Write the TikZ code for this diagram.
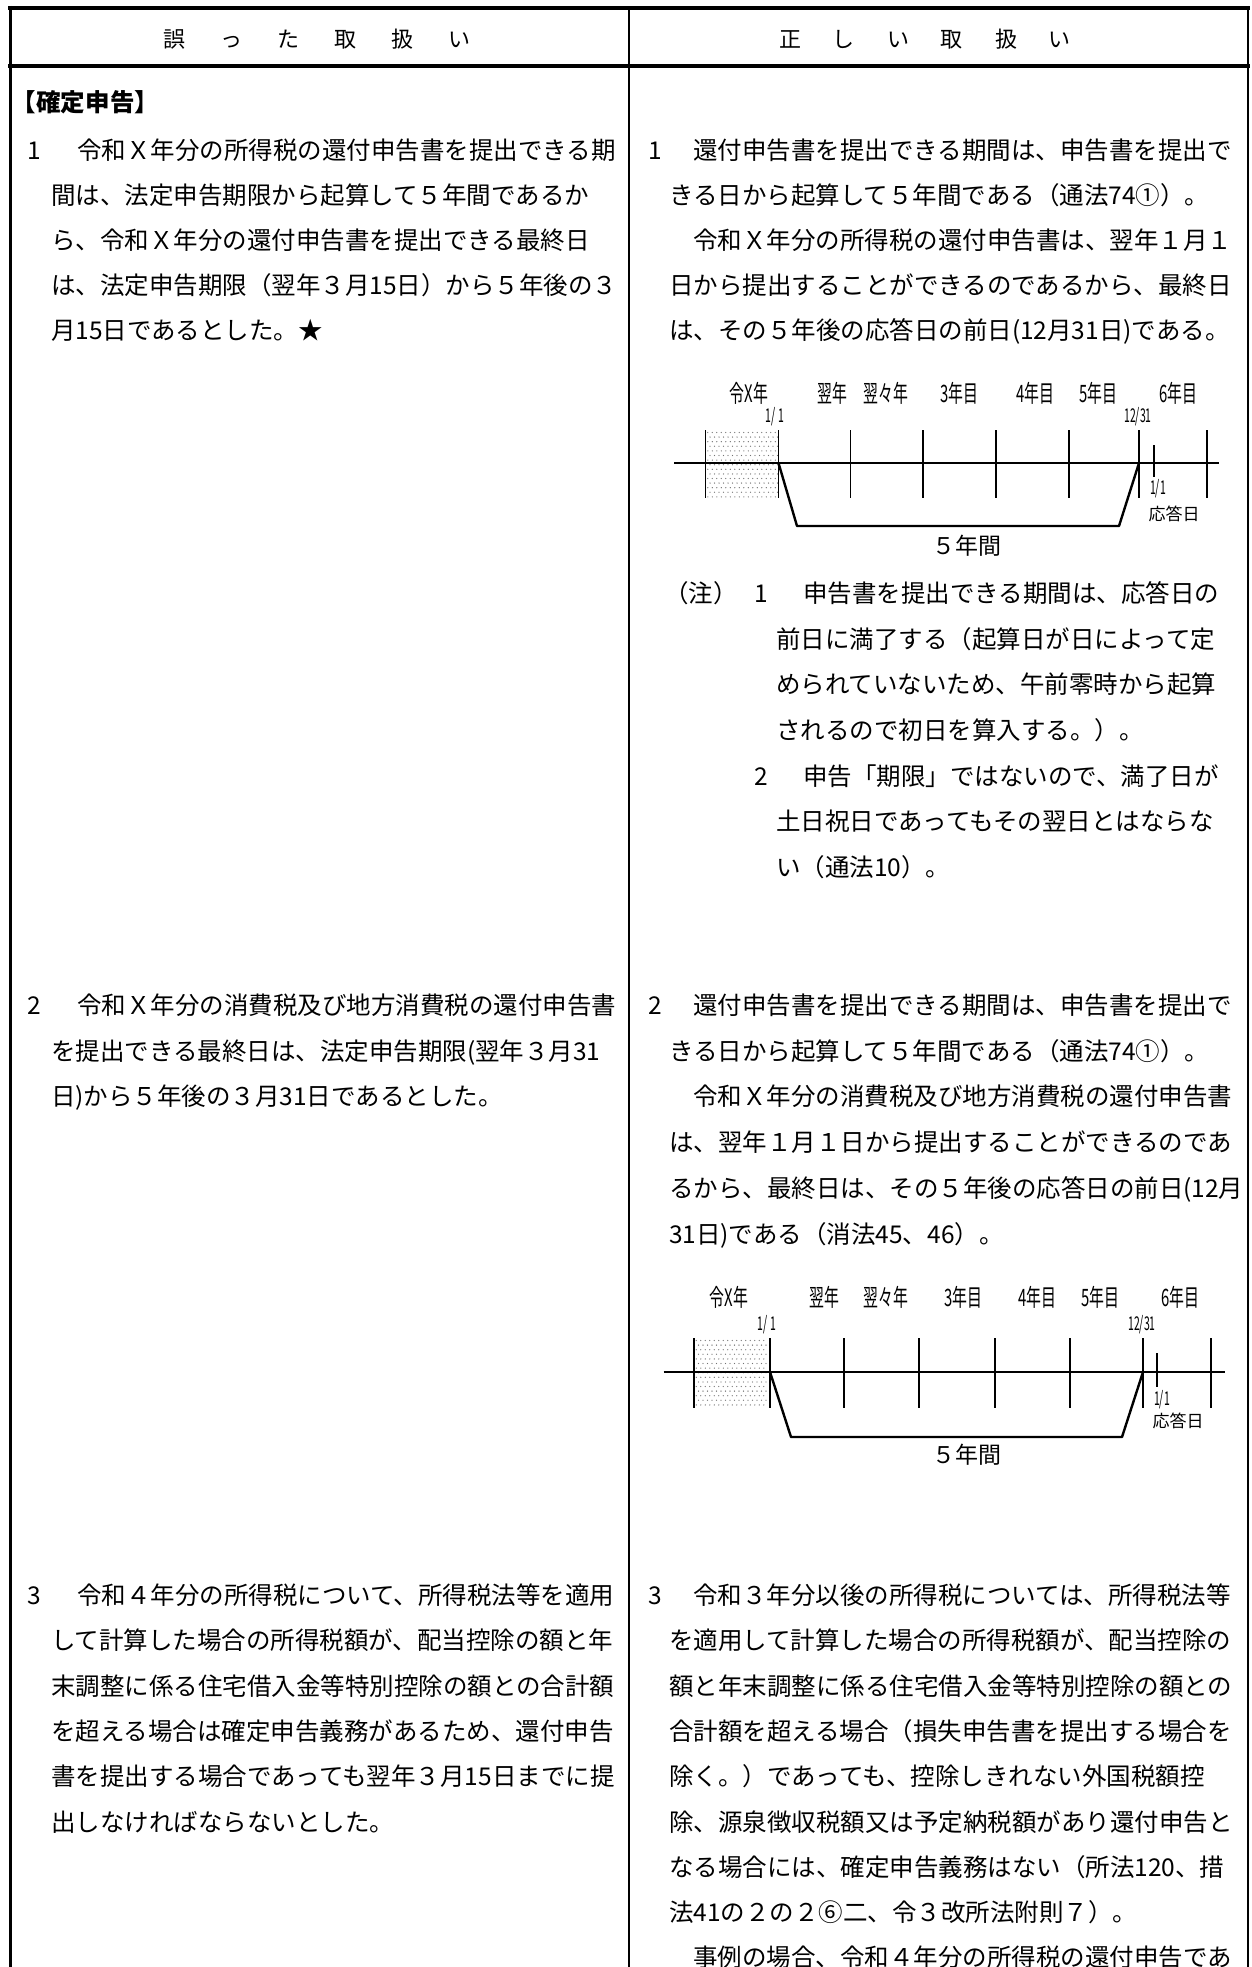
\documentclass[tikz,border=0pt]{standalone}
\usepackage{fontspec}
\setmainfont{Noto Sans CJK JP}
\newfontfamily\jpfont{Noto Sans CJK JP}
\XeTeXlinebreaklocale "ja"
\XeTeXlinebreakskip=0pt plus 3pt minus 0.7pt
\newcommand\bodyfont{\fontsize{24.5pt}{30pt}\selectfont}
\newcommand\headfont{\fontsize{22pt}{26pt}\selectfont}
\newcommand\labfont{\fontsize{24pt}{28pt}\selectfont}
\newcommand\datefont{\fontsize{19pt}{22pt}\selectfont}
\newcommand\smallfont{\fontsize{17pt}{20pt}\selectfont}
\newcommand\cnd[1]{\scalebox{0.62}[1]{#1}}
\newcommand\cnds[1]{\scalebox{0.55}[1]{#1}}
\newcommand\jl[2]{\hbox to #1pt{#2}}
\tikzset{
  ln/.style={anchor=west, inner sep=0pt, outer sep=0pt, font=\bodyfont, text height=21.5pt, text depth=2.9pt},
  num/.style={anchor=center, inner sep=0pt, outer sep=0pt, font=\bodyfont, text height=21.5pt, text depth=2.9pt},
  hd/.style={anchor=center, inner sep=0pt, font=\headfont},
  lab/.style={anchor=center, inner sep=0pt, font=\labfont},
  dte/.style={anchor=center, inner sep=0pt, font=\datefont},
  sml/.style={anchor=center, inner sep=0pt, font=\smallfont},
  frame/.style={line width=1.5pt, black},
  heavy/.style={line width=4pt, black},
  tl/.style={line width=2.4pt, black},
  tick/.style={line width=1.6pt, black},
  bar/.style={line width=2.4pt, black, line join=round},
}
\begin{document}
\begin{tikzpicture}[x=1pt,y=-1pt]
\useasboundingbox (0,0) rectangle (1252,1967);
\fill[white] (0,0) rectangle (1252,1967);

% ---------- frame ----------
\coordinate (tl0) at (8,8);   \coordinate (tr0) at (1250,8);
\coordinate (hl0) at (8,66);  \coordinate (hr0) at (1250,66);
\coordinate (lb0) at (10,6);  \coordinate (lb1) at (10,1967);
\coordinate (rb0) at (1248,6); \coordinate (rb1) at (1248,1967);
\coordinate (mb0) at (629,8); \coordinate (mb1) at (629,1967);
\draw[heavy] (tl0) -- (tr0);
\draw[heavy] (hl0) -- (hr0);
\draw[line width=3pt] (lb0) -- (lb1);
\draw[frame] (rb0) -- (rb1);
\draw[frame] (mb0) -- (mb1);

% ---------- header ----------
\node[hd] (hleft) at (317,39) {誤\hspace{35pt}っ\hspace{35pt}た\hspace{35pt}取\hspace{35pt}扱\hspace{35pt}い};
\node[hd] (hright) at (925,39) {正\hspace{32pt}し\hspace{32pt}い\hspace{32pt}取\hspace{32pt}扱\hspace{32pt}い};
\node[ln, font=\bodyfont\bfseries] (sect) at (12,102) {【確定申告】};

% ---------- left item 1 ----------
\node[num] (L1n) at (34,150) {1};
\node[ln] (L1a) at (77,150) {\jl{541}{令和Ｘ年分の所得税の還付申告書を提出できる期}};
\node[ln] (L1b) at (51,195) {\jl{567}{間は、法定申告期限から起算して５年間であるか}};
\node[ln] (L1c) at (51,240) {\jl{567}{ら、令和Ｘ年分の還付申告書を提出できる最終日}};
\node[ln] (L1d) at (51,285) {\jl{567}{は、法定申告期限（翌年３月15日）から５年後の３}};
\node[ln] (L1e) at (51,330) {月15日であるとした。★};

% ---------- right item 1 ----------
\node[num] (R1n) at (655,150) {1};
\node[ln] (R1a) at (693,150) {\jl{543}{還付申告書を提出できる期間は、申告書を提出で}};
\node[ln] (R1b) at (669,195) {きる日から起算して５年間である（通法74①）。};
\node[ln] (R1c) at (693,240) {\jl{543}{令和Ｘ年分の所得税の還付申告書は、翌年１月１}};
\node[ln] (R1d) at (669,285) {\jl{567}{日から提出することができるのであるから、最終日}};
\node[ln] (R1e) at (669,330) {\jl{567}{は、その５年後の応答日の前日(12月31日)である。}};

% ---------- diagram 1 ----------
\foreach \i in {0,...,15}{\foreach \j in {0,...,14}{
  \fill[black!55] ({707.8+\i*4.5+mod(\j,2)*2.2},{432.5+\j*4.6}) circle (0.65);}}
\coordinate (a1s) at (674,463); \coordinate (a1e) at (1219,463);
\draw[tl] (a1s) -- (a1e);
\foreach \x in {705.5,778.5,850.6,923,996,1069,1139,1207}{\draw[tick] (\x,430) -- (\x,498);}
\coordinate (a1r0) at (1154,445); \coordinate (a1r1) at (1154,477);
\draw[tick] (a1r0) -- (a1r1);
\coordinate (a1b0) at (778.5,463); \coordinate (a1b1) at (797,526);
\coordinate (a1b2) at (1119,526); \coordinate (a1b3) at (1139,463);
\draw[bar] (a1b0) -- (a1b1) -- (a1b2) -- (a1b3);
\node[lab] (d1y0) at (749,393) {\cnd{令X年}};
\node[lab] (d1y1) at (832,393) {\cnd{翌年}};
\node[lab] (d1y2) at (886,393) {\cnd{翌々年}};
\node[lab] (d1y3) at (959,393) {\cnd{3年目}};
\node[lab] (d1y4) at (1035,393) {\cnd{4年目}};
\node[lab] (d1y5) at (1098,393) {\cnd{5年目}};
\node[lab] (d1y6) at (1178,393) {\cnd{6年目}};
\node[dte] (d1s) at (775,417) {\cnds{1/ 1}};
\node[dte] (d1e) at (1138,417) {\cnds{12/31}};
\node[dte] (d1r) at (1158,489) {\cnds{1/1}};
\node[sml] (d1o) at (1174,514) {応答日};
\node[lab, font=\fontsize{23pt}{26pt}\selectfont] (d1p) at (967,546) {５年間};

% ---------- notes ----------
\node[num] (N0) at (701,593) {（注）};
\node[num] (N1n) at (761,593) {1};
\node[ln] (N1) at (803,593) {\jl{427}{申告書を提出できる期間は、応答日の}};
\node[ln] (N2) at (776,639) {\jl{454}{前日に満了する（起算日が日によって定}};
\node[ln] (N3) at (776,684) {\jl{454}{められていないため、午前零時から起算}};
\node[ln] (N4) at (776,730) {されるので初日を算入する。）。};
\node[num] (N5n) at (761,776) {2};
\node[ln] (N5) at (803,776) {\jl{427}{申告「期限」ではないので、満了日が}};
\node[ln] (N6) at (776,821) {\jl{454}{土日祝日であってもその翌日とはならな}};
\node[ln] (N7) at (776,867) {い（通法10）。};

% ---------- left item 2 ----------
\node[num] (L2n) at (34,1005) {2};
\node[ln] (L2a) at (77,1005) {\jl{541}{令和Ｘ年分の消費税及び地方消費税の還付申告書}};
\node[ln] (L2b) at (51,1051) {\jl{567}{を提出できる最終日は、法定申告期限(翌年３月31}};
\node[ln] (L2c) at (51,1096) {日)から５年後の３月31日であるとした。};

% ---------- right item 2 ----------
\node[num] (R2n) at (655,1005) {2};
\node[ln] (R2a) at (693,1005) {\jl{543}{還付申告書を提出できる期間は、申告書を提出で}};
\node[ln] (R2b) at (669,1051) {きる日から起算して５年間である（通法74①）。};
\node[ln] (R2c) at (693,1096) {\jl{543}{令和Ｘ年分の消費税及び地方消費税の還付申告書}};
\node[ln] (R2d) at (669,1142) {\jl{567}{は、翌年１月１日から提出することができるのであ}};
\node[ln] (R2e) at (669,1188) {\jl{567}{るから、最終日は、その５年後の応答日の前日(12月}};
\node[ln] (R2f) at (669,1234) {31日)である（消法45、46）。};

% ---------- diagram 2 ----------
\foreach \i in {0,...,15}{\foreach \j in {0,...,14}{
  \fill[black!55] ({696.3+\i*4.5+mod(\j,2)*2.2},{1340.5+\j*4.6}) circle (0.65);}}
\coordinate (a2s) at (663.5,1372); \coordinate (a2e) at (1225,1372);
\draw[tl] (a2s) -- (a2e);
\foreach \x in {694,770,844,919,995,1070,1143,1211}{\draw[tick] (\x,1338) -- (\x,1408);}
\coordinate (a2r0) at (1157,1353); \coordinate (a2r1) at (1157,1387);
\draw[tick] (a2r0) -- (a2r1);
\coordinate (a2b0) at (770,1372); \coordinate (a2b1) at (791,1437);
\coordinate (a2b2) at (1122,1437); \coordinate (a2b3) at (1143,1372);
\draw[bar] (a2b0) -- (a2b1) -- (a2b2) -- (a2b3);
\node[lab] (d2y0) at (729,1297) {\cnd{令X年}};
\node[lab] (d2y1) at (824,1297) {\cnd{翌年}};
\node[lab] (d2y2) at (886,1297) {\cnd{翌々年}};
\node[lab] (d2y3) at (963,1297) {\cnd{3年目}};
\node[lab] (d2y4) at (1037,1297) {\cnd{4年目}};
\node[lab] (d2y5) at (1100,1297) {\cnd{5年目}};
\node[lab] (d2y6) at (1180,1297) {\cnd{6年目}};
\node[dte] (d2s) at (767,1325) {\cnds{1/ 1}};
\node[dte] (d2e) at (1142,1325) {\cnds{12/31}};
\node[dte] (d2r) at (1162,1400) {\cnds{1/1}};
\node[sml] (d2o) at (1178,1421) {応答日};
\node[lab, font=\fontsize{23pt}{26pt}\selectfont] (d2p) at (967,1455) {５年間};

% ---------- left item 3 ----------
\node[num] (L3n) at (34,1595) {3};
\node[ln] (L3a) at (77,1595) {\jl{541}{令和４年分の所得税について、所得税法等を適用}};
\node[ln] (L3b) at (51,1640) {\jl{567}{して計算した場合の所得税額が、配当控除の額と年}};
\node[ln] (L3c) at (51,1686) {\jl{567}{末調整に係る住宅借入金等特別控除の額との合計額}};
\node[ln] (L3d) at (51,1731) {\jl{567}{を超える場合は確定申告義務があるため、還付申告}};
\node[ln] (L3e) at (51,1776) {\jl{567}{書を提出する場合であっても翌年３月15日までに提}};
\node[ln] (L3f) at (51,1822) {出しなければならないとした。};

% ---------- right item 3 ----------
\node[num] (R3n) at (655,1595) {3};
\node[ln] (R3a) at (693,1595) {\jl{543}{令和３年分以後の所得税については、所得税法等}};
\node[ln] (R3b) at (669,1640) {\jl{567}{を適用して計算した場合の所得税額が、配当控除の}};
\node[ln] (R3c) at (669,1686) {\jl{567}{額と年末調整に係る住宅借入金等特別控除の額との}};
\node[ln] (R3d) at (669,1731) {\jl{567}{合計額を超える場合（損失申告書を提出する場合を}};
\node[ln] (R3e) at (669,1776) {\jl{567}{除く。）であっても、控除しきれない外国税額控}};
\node[ln] (R3f) at (669,1822) {\jl{567}{除、源泉徴収税額又は予定納税額があり還付申告と}};
\node[ln] (R3g) at (669,1867) {\jl{567}{なる場合には、確定申告義務はない（所法120、措}};
\node[ln] (R3h) at (669,1912) {法41の２の２⑥二、令３改所法附則７）。};
\node[ln] (R3i) at (693,1957) {\jl{543}{事例の場合、令和４年分の所得税の還付申告であ}};
\end{tikzpicture}
\end{document}
